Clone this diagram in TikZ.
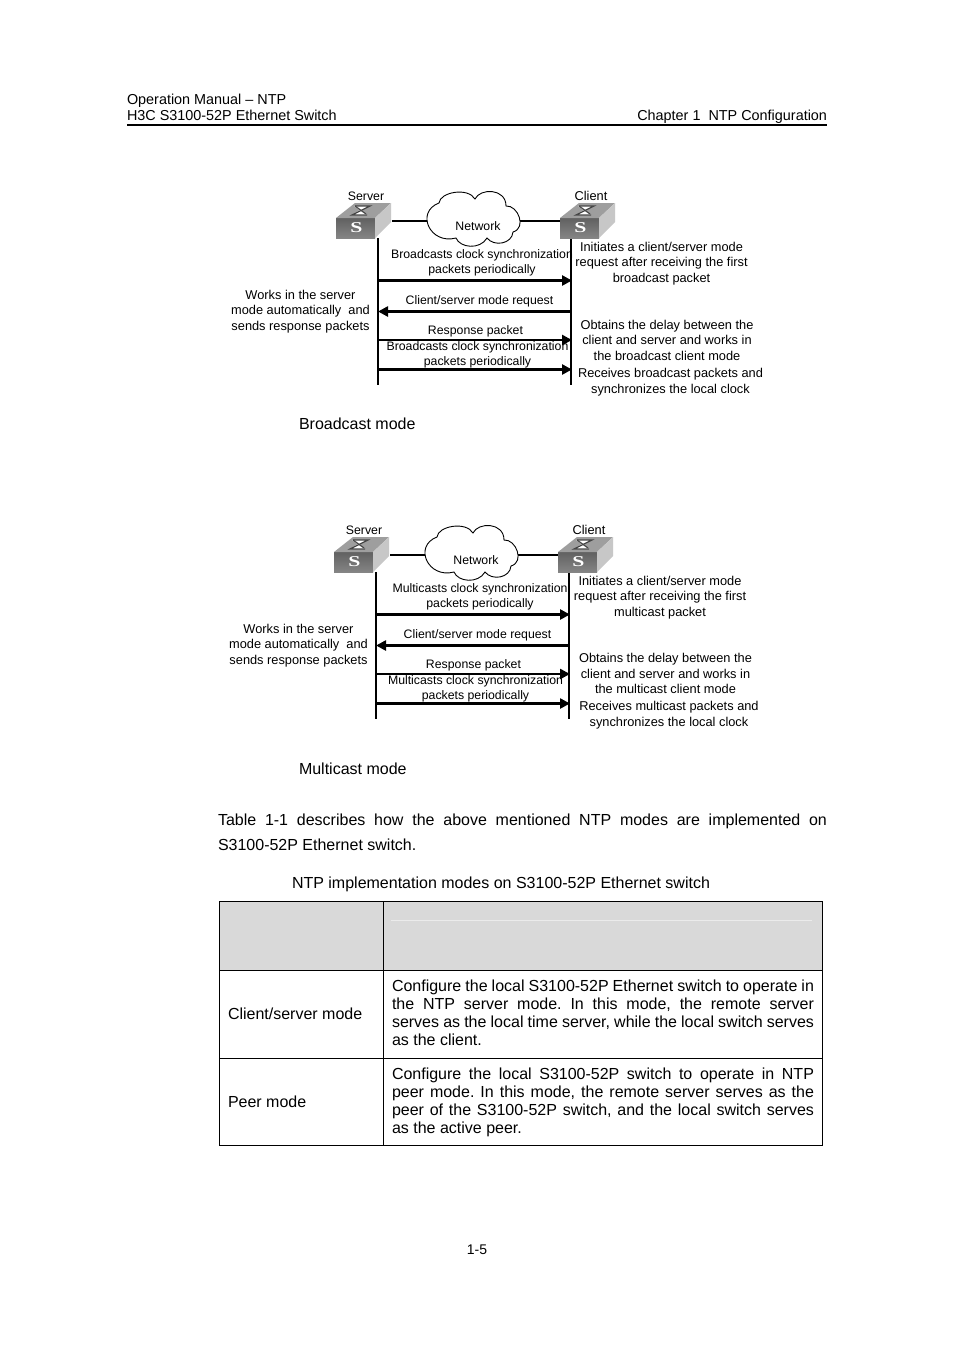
\documentclass[tikz,border=0pt]{standalone}
\usepackage{fontspec}
\setmainfont{Liberation Sans}
\newfontfamily\swfont[FakeStretch=1.45]{Liberation Serif}
\usetikzlibrary{arrows.meta}
\frenchspacing
\newcommand{\headf}{\fontsize{14.4}{16}\selectfont}
\newcommand{\bodyf}{\fontsize{16}{18}\selectfont}
\newcommand{\midf}{\fontsize{12.8}{15.5}\selectfont}
\newcommand{\smallf}{\fontsize{12.3}{15}\selectfont}
\tikzset{
  x=1pt,y=-1pt,
  lbl/.style={inner sep=0pt,outer sep=0pt,align=center,font=\midf},
  slbl/.style={inner sep=0pt,outer sep=0pt,align=center,font=\smallf},
  body/.style={inner sep=0pt,outer sep=0pt,anchor=base west,font=\bodyf},
  head/.style={inner sep=0pt,outer sep=0pt,font=\headf},
  life/.style={line width=1.4pt,black},
  msg/.style={line width=2.8pt,black,-{Triangle[length=10pt,width=10pt]}},
  link/.style={line width=1.1pt,black},
  cell/.style={inner sep=0pt,outer sep=0pt,anchor=north west,text width=422pt,align=justify,font=\bodyf},
  grid/.style={line width=0.9pt,black},
}
\newcommand{\switchicon}[3]{%
  \begin{scope}[shift={(#2,#3)}]
    \fill[top color=black!62,bottom color=black!48] (0,15)--(39,15)--(39,35)--(0,35)--cycle;
    \fill[black!38] (0,15)--(19,0)--(55,0)--(39,15)--cycle;
    \fill[black!22] (39,15)--(55,0)--(55,19)--(39,35)--cycle;
    \fill[white] (18,3)--(33,3)--(25,8)--cycle;
    \fill[white] (16,12)--(31,12)--(24,7)--cycle;
    \draw[line width=1.2pt,black!72] (19,3)--(34,3)--(16,12)--(31,12);
    \draw[line width=1.2pt,black!72] (19,3)--(30,11);
    \node[inner sep=0pt,text=white,font=\fontsize{15}{15}\selectfont\swfont\bfseries] (#1) at (20.5,25) {S};
  \end{scope}}
\newcommand{\modediagram}[4]{% #1 prefix, #2 dx, #3 dy, #4 word set
\begin{scope}[shift={(#2,#3)}]
  \coordinate (#1sa) at (378,238); \coordinate (#1sb) at (378,385);
  \coordinate (#1ca) at (571,238); \coordinate (#1cb) at (571,385);
  \coordinate (#1s1) at (378,280.5); \coordinate (#1c1) at (572,280.5);
  \coordinate (#1s2) at (378,311.5); \coordinate (#1c2) at (571,311.5);
  \coordinate (#1s3) at (378,340); \coordinate (#1c3) at (572,340);
  \coordinate (#1s4) at (378,369.5); \coordinate (#1c4) at (572,369.5);
  \coordinate (#1l1) at (392,221); \coordinate (#1l2) at (430,221);
  \coordinate (#1r1) at (518,221); \coordinate (#1r2) at (560,221);
  \draw[link] (#1l1)--(#1l2) (#1r1)--(#1r2);
  \draw[life] (#1sa)--(#1sb);
  \draw[life] (#1ca)--(#1cb);
  \draw[msg] (#1s1)--(#1c1);
  \draw[msg] (#1c2)--(#1s2);
  \draw[msg] (#1s3)--(#1c3);
  \draw[msg] (#1s4)--(#1c4);
  \switchicon{#1sw1}{336}{203}
  \switchicon{#1sw2}{560}{203}
  \draw[line width=0.9pt,fill=white]
    (439,203) .. controls (440,192) and (468,187) .. (475,199)
    .. controls (480,188) and (506,188) .. (506,206)
    .. controls (518,205) and (527,228) .. (513,232)
    .. controls (512,244) and (494,247) .. (487,238)
    .. controls (480,250) and (460,248) .. (456,238)
    .. controls (430,245) and (415,212) .. (439,203) -- cycle;
  \node[slbl] (#1net) at (478,226) {Network};
  \node[slbl] (#1srv) at (366,196) {Server};
  \node[lbl] (#1cli) at (591,196) {Client};
  \node[slbl] (#1m1) at (482,262.5) {#4 clock synchronization\\packets periodically};
  \node[slbl] (#1m2) at (479.5,301.5) {Client/server mode request};
  \node[slbl] (#1m3) at (475.5,331.5) {Response packet};
  \node[slbl] (#1m4) at (477.5,354.5) {#4 clock synchronization\\packets periodically};
  \node[lbl] (#1w) at (300.5,311.5) {Works in the server\\mode automatically\ \ and\\sends response packets};
\end{scope}}
\begin{document}
\begin{tikzpicture}
\useasboundingbox (0,0) rectangle (954,1350);
\fill[white] (0,0) rectangle (954,1350);
% header
\node[head,anchor=base west] (h1) at (127,104) {Operation Manual – NTP};
\node[head,anchor=base west] (h2) at (127,120) {H3C S3100-52P Ethernet Switch};
\node[head,anchor=base east] (h3) at (827,120) {Chapter 1\ \ NTP Configuration};
\coordinate (ra) at (127,124.7); \coordinate (rb) at (827,124.7);
\draw[line width=1.6pt] (ra)--(rb);
% diagrams
\modediagram{b}{0}{0}{Broadcasts}
\node[lbl] (bi) at (661.5,263.5) {Initiates a client/server mode\\request after receiving the first\\broadcast packet};
\node[lbl] (bo) at (667,340) {Obtains the delay between the\\client and server and works in\\the broadcast client mode};
\node[lbl] (br) at (670.5,382) {Receives broadcast packets and\\synchronizes the local clock};
\node[body] (bc) at (299,429) {Broadcast mode};
\modediagram{m}{-2}{334}{Multicasts}
\node[lbl] (mi) at (660,597.5) {Initiates a client/server mode\\request after receiving the first\\multicast packet};
\node[lbl] (mo) at (665.5,673.5) {Obtains the delay between the\\client and server and works in\\the multicast client mode};
\node[lbl] (mr) at (669,715) {Receives multicast packets and\\synchronizes the local clock};
\node[body] (mc) at (299,774) {Multicast mode};
% paragraph
\node[body,anchor=north west,text width=609pt,align=justify,font=\fontsize{16}{25}\selectfont] (para) at (218,813.5)
  {Table 1-1 describes how the above mentioned NTP modes are implemented on\linebreak S3100-52P Ethernet switch.};
\node[body] (cap) at (292,888) {NTP implementation modes on S3100-52P Ethernet switch};
% table
\fill[black!15] (219,901) rectangle (823,970);
\draw[white!92!black,line width=0.8pt] (391,920.5)--(812,920.5);
\draw[grid] (219,901.5) rectangle (822.5,1145.5);
\draw[grid] (383,901)--(383,1146);
\draw[grid] (219,970.5)--(822.5,970.5) (219,1058.5)--(822.5,1058.5);
\node[body] (t1) at (228,1019) {Client/server mode};
\node[body] (t2) at (228,1107) {Peer mode};
\node[cell] (d1) at (392,979.5)
  {Configure the local S3100-52P Ethernet switch to operate in\linebreak the NTP server mode. In this mode, the remote server\linebreak serves as the local time server, while the local switch serves\linebreak as the client.};
\node[cell] (d2) at (392,1067.5)
  {Configure the local S3100-52P switch to operate in NTP\linebreak peer mode. In this mode, the remote server serves as the\linebreak peer of the S3100-52P switch, and the local switch serves\linebreak as the active peer.};
\node[inner sep=0pt,font=\fontsize{14}{15}\selectfont] (pg) at (477,1249.5) {1-5};
\end{tikzpicture}
\end{document}
